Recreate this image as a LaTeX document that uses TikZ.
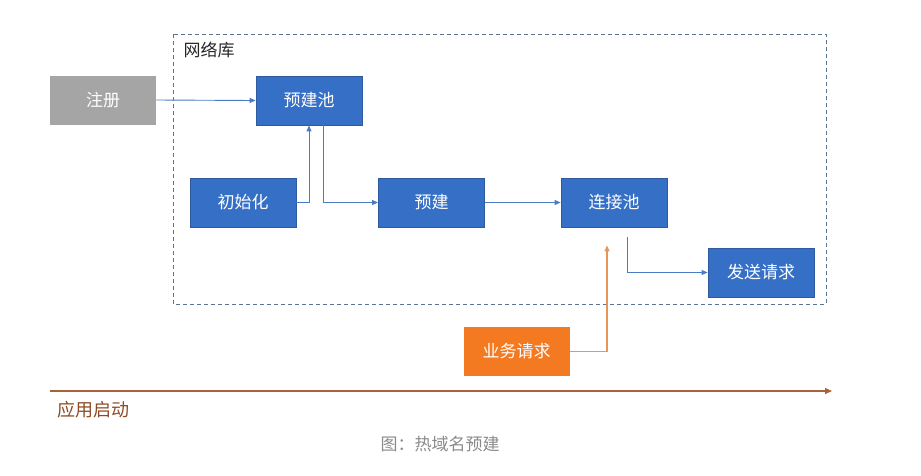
\documentclass[tikz,border=0pt]{standalone}
\usepackage{fontspec}
\setmainfont{Noto Sans CJK SC}
\usetikzlibrary{arrows.meta,positioning}
\definecolor{boxblue}{HTML}{3570C6}
\definecolor{boxedge}{HTML}{2F5A9E}
\definecolor{lineblue}{HTML}{4A7CC4}
\definecolor{boxgray}{HTML}{A5A5A5}
\definecolor{boxorange}{HTML}{F47A22}
\definecolor{lineorange}{HTML}{E8955A}
\definecolor{timebrown}{HTML}{A8613A}
\definecolor{textbrown}{HTML}{8E4A25}
\definecolor{dashgray}{HTML}{5A7594}
\definecolor{capgray}{HTML}{8A8A8A}
\tikzset{
  bluebox/.style={draw=boxedge, line width=0.8pt, fill=boxblue, text=white, minimum width=106pt, minimum height=49pt, inner sep=0pt, font=\fontsize{17}{19}\selectfont},
  graybox/.style={bluebox, draw=none, fill=boxgray},
  orangebox/.style={bluebox, draw=none, fill=boxorange},
  bluearrow/.style={draw=lineblue, line width=0.9pt, -{Triangle[length=6pt,width=5pt]}},
  orangearrow/.style={draw=lineorange, line width=1.2pt, -{Triangle[length=6pt,width=5pt]}},
}
\begin{document}
\begin{tikzpicture}[x=1pt,y=-1pt]
\useasboundingbox (0,0) rectangle (921,475);
% dashed frame
\draw[dashgray, line width=1pt, dash pattern=on 4pt off 3pt] (173,34) rectangle (826,304);
\node[anchor=west, text=black!85, font=\fontsize{17}{19}\selectfont] (lib) at (180,50) {网络库};
% boxes
\node[graybox] (reg) at (103,100) {注册};
\node[bluebox] (pool) at (309,100.5) {预建池};
\node[bluebox] (init) at (243,202.5) {初始化};
\node[bluebox] (pre) at (431.5,202.5) {预建};
\node[bluebox] (conn) at (614,202.5) {连接池};
\node[bluebox] (send) at (761,272.5) {发送请求};
\node[orangebox] (biz) at (516.5,351.5) {业务请求};
% connectors
\draw[bluearrow] (reg.east) -- (pool.west);
\draw[bluearrow] (init.east) -| (pool.south);
\draw[bluearrow] ([xshift=14pt]pool.south) |- (pre.west);
\draw[bluearrow] (pre.east) -- (conn.west);
\coordinate (cs) at ([xshift=13pt,yshift=-10pt]conn.south);
\draw[bluearrow] (cs) |- (send.west);
\coordinate (ce) at ([xshift=-7pt,yshift=-18pt]conn.south);
\draw[orangearrow] (biz.east) -| (ce);
% timeline
\coordinate (t0) at (50,391);
\coordinate (t1) at (832,391);
\draw[timebrown, line width=1.3pt, -{Triangle[length=7pt,width=6pt]}] (t0) -- (t1);
\node[anchor=west, text=textbrown, font=\fontsize{18}{20}\selectfont] (start) at (54,410) {应用启动};
\node[text=capgray, font=\fontsize{17}{19}\selectfont] (cap) at (440,444) {图：热域名预建};
\end{tikzpicture}
\end{document}
